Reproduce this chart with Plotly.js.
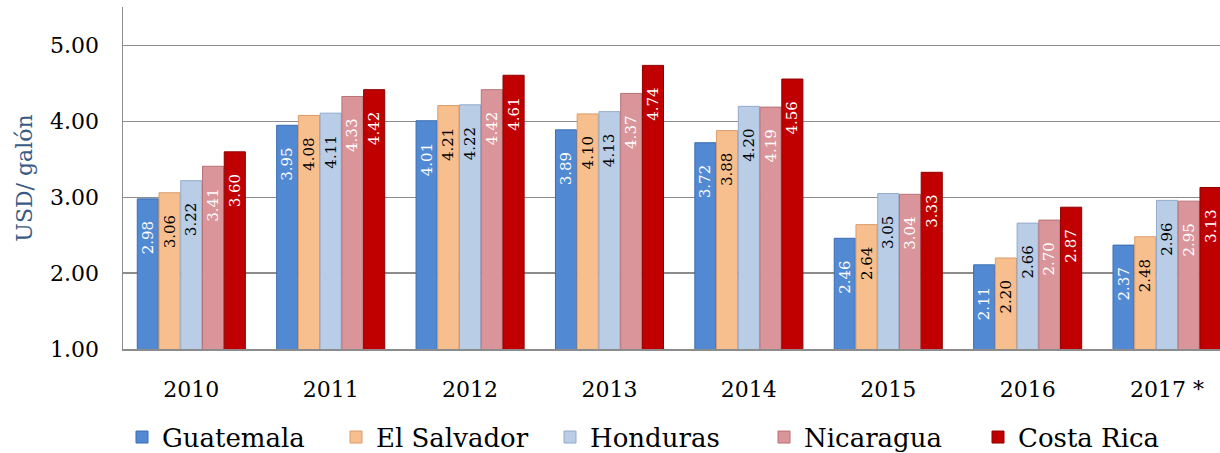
<!DOCTYPE html>
<html>
<head>
<meta charset="utf-8">
<script src="https://cdn.plot.ly/plotly-3.0.1.min.js"></script>
<style>
  html, body { margin: 0; padding: 0; background: #ffffff; overflow: hidden; }
  #chart { width: 1220px; height: 453px; }
</style>
</head>
<body>
<div id="chart"></div>
<script>
// ---- data ----
const years = ["2010", "2011", "2012", "2013", "2014", "2015", "2016", "2017 *"];
const countries = ["Guatemala", "El Salvador", "Honduras", "Nicaragua", "Costa Rica"];
const guatemala  = [2.98, 3.95, 4.01, 3.89, 3.72, 2.46, 2.11, 2.37];
const elSalvador = [3.06, 4.08, 4.21, 4.10, 3.88, 2.64, 2.20, 2.48];
const honduras   = [3.22, 4.11, 4.22, 4.13, 4.20, 3.05, 2.66, 2.96];
const nicaragua  = [3.41, 4.33, 4.42, 4.37, 4.19, 3.04, 2.70, 2.95];
const costaRica  = [3.60, 4.42, 4.61, 4.74, 4.56, 3.33, 2.87, 3.13];
const yTickVals  = [1, 2, 3, 4, 5];
const yTickText  = ["1.00", "2.00", "3.00", "4.00", "5.00"];
const yTitle = "USD/ galón";

// ---- styles ----
const seriesValues = [guatemala, elSalvador, honduras, nicaragua, costaRica];
const fills  = ["#5189d2", "#f8bf8e", "#b9cde6", "#d9959a", "#c00000"];
const edges  = ["#3c6db0", "#d99c6a", "#93aacb", "#b87378", "#8e0000"];
const labelColors = ["#ffffff", "#000000", "#000000", "#ffffff", "#ffffff"];
const FONT = "DejaVu Serif, Liberation Serif, serif";

const traces = countries.map((name, i) => ({
  type: "bar",
  name: name,
  x: years,
  y: seriesValues[i],
  marker: { color: fills[i], line: { color: edges[i], width: 1 } },
  texttemplate: "%{y:.2f}\u00a0\u00a0\u00a0\u00a0",
  textposition: "inside",
  insidetextanchor: "end",
  textangle: -90,
  constraintext: "none",
  textfont: { family: FONT, size: 15, color: labelColors[i] },
  hoverinfo: "x+y+name"
}));

const layout = {
  width: 1220,
  height: 453,
  margin: { l: 123, r: 0, t: 7, b: 104, pad: 0 },
  paper_bgcolor: "#ffffff",
  plot_bgcolor: "#ffffff",
  barmode: "group",
  bargap: 0.22,
  bargroupgap: 0.03,
  showlegend: true,
  font: { family: FONT, color: "#000000" },
  xaxis: {
    type: "category",
    range: [-0.49, 7.38],
    showline: true,
    linecolor: "#8c8c8c",
    linewidth: 1.5,
    showgrid: false,
    ticks: "",
    ticklabelstandoff: 20,
    tickfont: { family: FONT, size: 22, color: "#000000" },
    fixedrange: true
  },
  yaxis: {
    range: [1, 5.51],
    tickvals: yTickVals,
    ticktext: yTickText,
    showline: true,
    linecolor: "#8c8c8c",
    linewidth: 1.5,
    showgrid: true,
    gridcolor: "#8c8c8c",
    gridwidth: 1.5,
    zeroline: false,
    ticks: "",
    ticklabelstandoff: 18,
    tickfont: { family: FONT, size: 22, color: "#000000" },
    title: { text: yTitle, standoff: 11, font: { family: FONT, size: 22, color: "#3a5a85" } },
    fixedrange: true
  },
  legend: {
    orientation: "h",
    xref: "container",
    yref: "container",
    x: 0.1,
    xanchor: "left",
    y: 0.035,
    yanchor: "middle",
    entrywidth: 169,
    entrywidthmode: "pixels",
    font: { family: FONT, size: 26, color: "#000000" },
    bgcolor: "rgba(0,0,0,0)",
    traceorder: "normal"
  }
};

Plotly.newPlot("chart", traces, layout, { displayModeBar: false, staticPlot: true });
</script>
</body>
</html>
